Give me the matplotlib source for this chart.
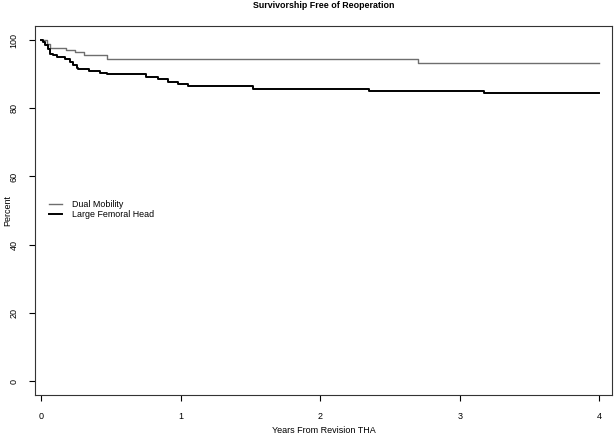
import matplotlib
matplotlib.use('Agg')
import matplotlib.pyplot as plt

plt.rcParams['font.family'] = ['Liberation Sans', 'DejaVu Sans']

# Kaplan-Meier steps (time in years, percent free of reoperation)
dm_time = [0, 0.04, 0.065, 0.18, 0.24, 0.31, 0.47, 2.70, 4.0]
dm_surv = [100, 99.0, 97.8, 97.1, 96.6, 95.6, 94.6, 93.3, 93.3]

lfh_time = [0, 0.015, 0.03, 0.05, 0.065, 0.088, 0.112, 0.172, 0.208, 0.232,
            0.256, 0.268, 0.34, 0.423, 0.47, 0.75, 0.84, 0.91, 0.98, 1.05,
            1.52, 2.35, 3.17, 4.0]
lfh_surv = [100, 99.4, 98.5, 97.5, 96.0, 95.6, 95.1, 94.6, 93.6, 92.7,
            91.7, 91.4, 90.9, 90.4, 90.0, 89.3, 88.6, 87.8, 87.1, 86.5,
            85.8, 85.2, 84.5, 84.5]

x_ticks = [0, 1, 2, 3, 4]
y_ticks = [0, 20, 40, 60, 80, 100]

fig = plt.figure(figsize=(6.15, 4.36), dpi=100)
ax = fig.add_axes([0.057, 0.094, 0.938, 0.846])

ax.step(dm_time, dm_surv, where='post', color='#6e6e6e', linewidth=1.0, label='Dual Mobility')
ax.step(lfh_time, lfh_surv, where='post', color='black', linewidth=1.4, label='Large Femoral Head')

ax.set_xlim(-0.043, 4.09)
ax.set_ylim(-4.1, 104.1)
ax.set_xticks(x_ticks)
ax.set_yticks(y_ticks)
ax.set_yticklabels([str(v) for v in y_ticks], rotation=90, va='center')
ax.tick_params(direction='out', length=4, width=0.8, labelsize=6.5, pad=8)
for s in ax.spines.values():
    s.set_linewidth(0.8)
    s.set_color('#333333')

ax.set_title('Survivorship Free of Reoperation', fontsize=6.4, fontweight='bold', pad=13)
ax.set_xlabel('Years From Revision THA', fontsize=6.5, va='center')
ax.xaxis.set_label_coords(0.5, -0.096)
ax.set_ylabel('Percent', fontsize=6.5, va='center')
ax.yaxis.set_label_coords(-0.048, 0.5)

ax.legend(loc='upper left', bbox_to_anchor=(0.01, 0.55), frameon=False, fontsize=6.4,
          handlelength=1.45, handletextpad=1.2, labelspacing=0.15)

fig.savefig('out.png', dpi=100)
